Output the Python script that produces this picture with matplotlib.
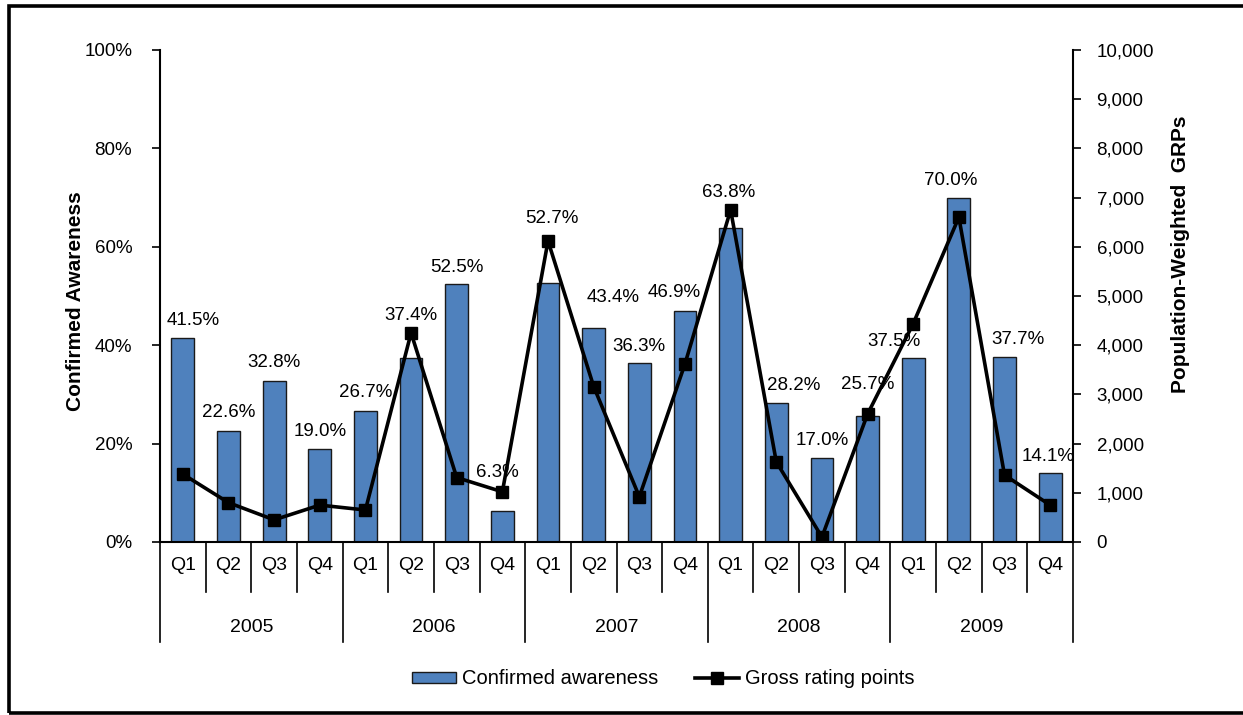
import matplotlib.pyplot as plt
from matplotlib.patches import Rectangle
from matplotlib.ticker import FuncFormatter, MultipleLocator
import matplotlib.transforms as mtransforms

plt.rcParams['font.family'] = ['Liberation Sans', 'DejaVu Sans']

years = ['2005', '2006', '2007', '2008', '2009']
quarters = ['Q1', 'Q2', 'Q3', 'Q4']
awareness = [41.5, 22.6, 32.8, 19.0, 26.7, 37.4, 52.5, 6.3, 52.7, 43.4,
             36.3, 46.9, 63.8, 28.2, 17.0, 25.7, 37.5, 70.0, 37.7, 14.1]
grps = [1380, 800, 450, 750, 650, 4250, 1310, 1020, 6120, 3160,
        920, 3620, 6750, 1630, 100, 2600, 4440, 6600, 1360, 750]

# label nudges in pixels (dx, gap above bar top)
label_dx = [10, 0, 0, 0, 0, 0, 0, -5, 4, 19, 0, -11, -2, 17, 0, 0, -19, -8, 13, -2]
label_gap = [13, 14, 14, 13, 14, 38, 12, 34, 60, 26, 12, 14, 31, 13, 13, 27, 11, 13, 13, 12]

W, H = 1243, 715
fig = plt.figure(figsize=(W / 100, H / 100), dpi=100)
ax = fig.add_axes([160 / W, 173 / H, 913 / W, 492 / H])
ax2 = ax.twinx()

x = list(range(len(awareness)))
bars = ax.bar(x, awareness, width=0.5, color='#4F81BD', edgecolor='#1a1a1a',
              linewidth=1, label='Confirmed awareness', zorder=2)
line, = ax2.plot(x, grps, color='black', linewidth=2.6, marker='s',
                 markersize=8, label='Gross rating points', zorder=3)

ax.set_xlim(-0.5, len(x) - 0.5)
ax.set_ylim(0, 100)
ax2.set_ylim(0, 10000)
ax.yaxis.set_major_locator(MultipleLocator(20))
ax2.yaxis.set_major_locator(MultipleLocator(1000))
ax.yaxis.set_major_formatter(FuncFormatter(lambda v, p: '%d%%' % v))
ax2.yaxis.set_major_formatter(FuncFormatter(lambda v, p: '{:,.0f}'.format(v)))

for a in (ax, ax2):
    a.spines['top'].set_visible(False)
    for s in a.spines.values():
        s.set_linewidth(1.5)
ax2.spines['left'].set_visible(False)
ax2.spines['bottom'].set_visible(False)
ax.spines['right'].set_visible(False)

ax.tick_params(axis='y', direction='out', length=6, width=1.2, labelsize=13.5, pad=14)
ax2.tick_params(axis='y', direction='out', length=6, width=1.2, labelsize=13.5, pad=11)
ax.set_xticks([])

# category axis: quarters and years with separators
trans = mtransforms.blended_transform_factory(ax.transData, ax.transAxes)
for i in range(len(x) + 1):
    bottom = -0.203 if i % 4 == 0 else -0.102
    ax.plot([i - 0.5, i - 0.5], [0, bottom], color='black', linewidth=1.2,
            transform=trans, clip_on=False)
for i in x:
    ax.text(i, -0.048, quarters[i % 4], transform=trans, ha='center',
            va='center', fontsize=14)
for k, yr in enumerate(years):
    ax.text(4 * k + 1.5, -0.174, yr, transform=trans, ha='center',
            va='center', fontsize=14)

# data labels
for i, v in enumerate(awareness):
    ax2.annotate('%.1f%%' % v, xy=(i, v), xycoords=('data', ax.transData),
                 xytext=(label_dx[i], label_gap[i]), textcoords='offset pixels',
                 ha='center', va='baseline', fontsize=13.5, zorder=4)

fig.text(75.5 / W, 1 - 301 / H, 'Confirmed Awareness', rotation=90,
         ha='center', va='center', fontsize=15, fontweight='bold')
fig.text(1180 / W, 1 - 254 / H, 'Population-Weighted  GRPs', rotation=90,
         ha='center', va='center', fontsize=15, fontweight='bold')

fig.legend([bars, line], ['Confirmed awareness', 'Gross rating points'],
           loc='center', bbox_to_anchor=(663 / W, 1 - 679 / H), ncol=2,
           frameon=False, fontsize=14.5, handlelength=2.2, handleheight=0.5,
           handletextpad=0.3, columnspacing=1.8)

fig.patches.append(Rectangle((8.5 / W, 2 / H), 1.1, (713 - 5.5) / H,
                             transform=fig.transFigure, fill=False,
                             edgecolor='black', linewidth=2.6))

plt.savefig('out.png', dpi=100)
